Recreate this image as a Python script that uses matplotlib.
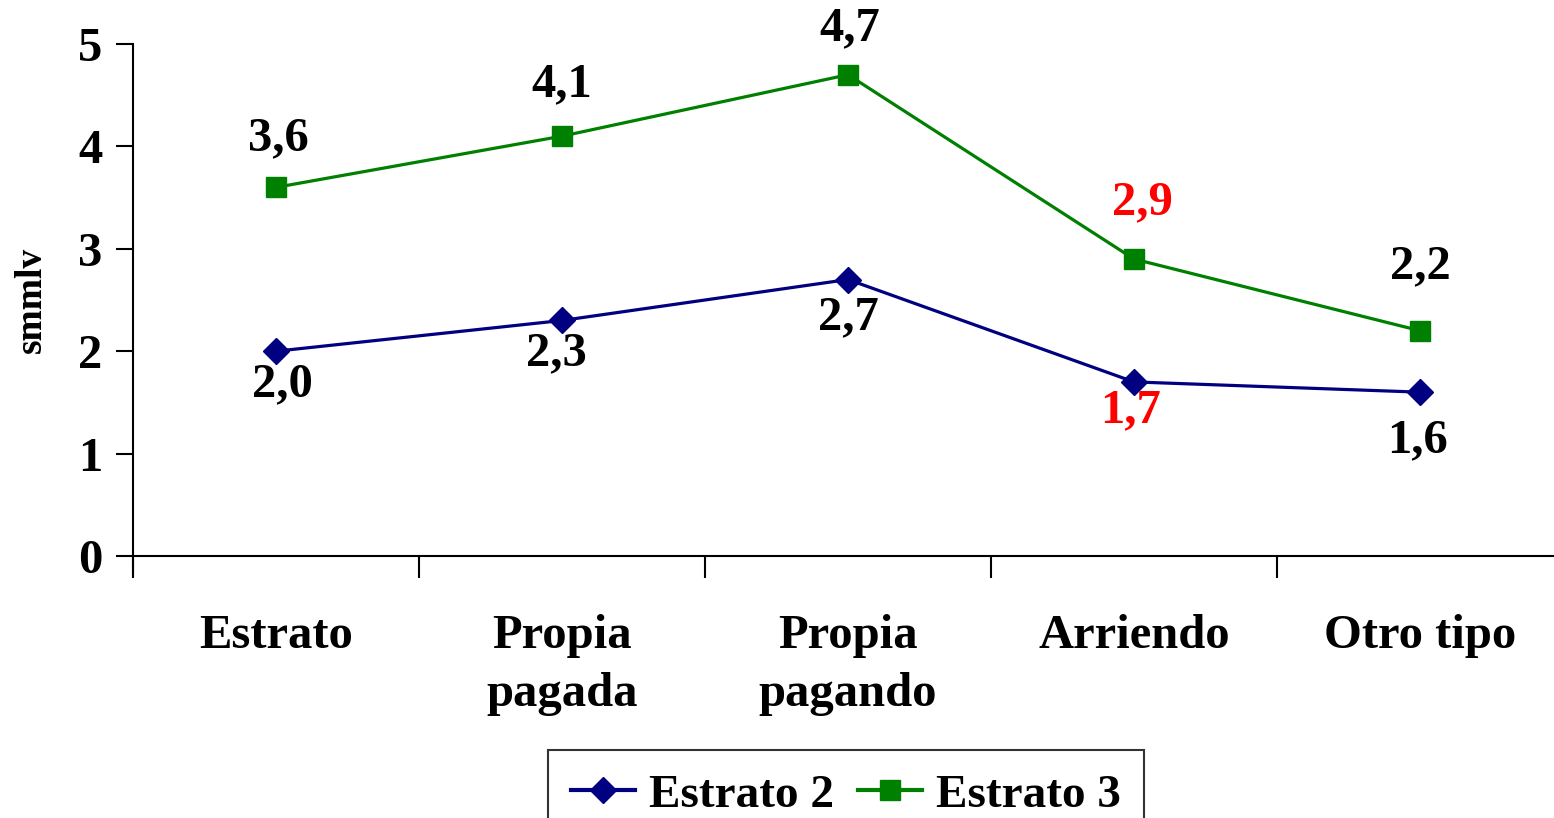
import matplotlib
matplotlib.use("Agg")
import matplotlib.pyplot as plt
from matplotlib.lines import Line2D

categories = ["Estrato", "Propia\npagada", "Propia\npagando", "Arriendo", "Otro tipo"]
estrato2 = [2.0, 2.3, 2.7, 1.7, 1.6]
estrato3 = [3.6, 4.1, 4.7, 2.9, 2.2]
label_colors2 = ["black", "black", "black", "red", "black"]
label_colors3 = ["black", "black", "black", "red", "black"]
yticks = [0, 1, 2, 3, 4, 5]

# label offsets in pixels (dx, dy), screen direction
offsets2 = [(6, -33), (-6, -33), (0, -38), (-3, -28), (-2, -48)]
offsets3 = [(2, 49), (0, 52), (2, 46), (8, 57), (0, 64)]

plt.rcParams["font.family"] = ["Liberation Serif", "DejaVu Serif"]
plt.rcParams["font.weight"] = "bold"

W, H = 1554, 818
fig = plt.figure(figsize=(W / 100, H / 100), dpi=100)
step = 286.0
ax = fig.add_axes([133 / W, (H - 556) / H, 5 * step / W, 512 / H])

x = list(range(len(categories)))
navy = "#000080"
green = "#008000"
ms_d, ms_s = 13, 14
ax.plot(x, estrato2, color=navy, lw=2.3, marker="D", ms=ms_d, mfc=navy, mec=navy, zorder=3)
ax.plot(x, estrato3, color=green, lw=2.3, marker="s", ms=ms_s, mfc=green, mec=green, zorder=3)

px = 72 / 100  # pixels to points
for xi, v, c, (dx, dy) in zip(x, estrato2, label_colors2, offsets2):
    ax.annotate(f"{v:.1f}".replace(".", ","), (xi, v), xytext=(dx * px, dy * px),
                textcoords="offset points", ha="center", va="center",
                fontsize=35, fontweight="bold", color=c)
for xi, v, c, (dx, dy) in zip(x, estrato3, label_colors3, offsets3):
    ax.annotate(f"{v:.1f}".replace(".", ","), (xi, v), xytext=(dx * px, dy * px),
                textcoords="offset points", ha="center", va="center",
                fontsize=35, fontweight="bold", color=c)

ax.set_xlim(-0.5, 4.5)
ax.set_ylim(0, 5)
ax.set_yticks(yticks)
ax.set_yticklabels([str(t) for t in yticks], fontsize=35, fontweight="bold")
ax.tick_params(axis="y", direction="out", length=12, width=1.5, pad=10)

# category labels centred in each band, separator ticks on the boundaries
ax.set_xticks([i + 0.5 for i in range(-1, 5)])
ax.set_xticklabels([])
ax.tick_params(axis="x", direction="out", length=16, width=1.5)
ax.set_xticks(x, minor=True)
ax.set_xticklabels(categories, minor=True, fontsize=35, fontweight="bold", linespacing=1.39)
ax.tick_params(axis="x", which="minor", length=0, pad=42)

for s in ["top", "right"]:
    ax.spines[s].set_visible(False)
ax.spines["left"].set_linewidth(1.5)
ax.spines["bottom"].set_linewidth(1.5)
ax.spines["left"].set_bounds(-0.17, 5)

ax.set_ylabel("smmlv", fontsize=27, fontweight="bold")
ax.yaxis.set_label_coords(-(133 - 49) / (5 * step), 0.5)

handles = [
    Line2D([], [], color=navy, lw=3, marker="D", ms=ms_d, mfc=navy, mec=navy),
    Line2D([], [], color=green, lw=3, marker="s", ms=ms_s, mfc=green, mec=green),
]
leg = fig.legend(handles, ["Estrato 2", "Estrato 3"], loc="upper center",
                 bbox_to_anchor=(846 / W, (H - 750) / H), ncol=2, frameon=True,
                 fancybox=False, edgecolor="black", prop={"size": 34, "weight": "bold"},
                 handlelength=1.35, handletextpad=0.3, columnspacing=0.5,
                 borderpad=0.5, borderaxespad=0)
leg.get_frame().set_linewidth(1.5)

fig.savefig("out.png", dpi=100)
